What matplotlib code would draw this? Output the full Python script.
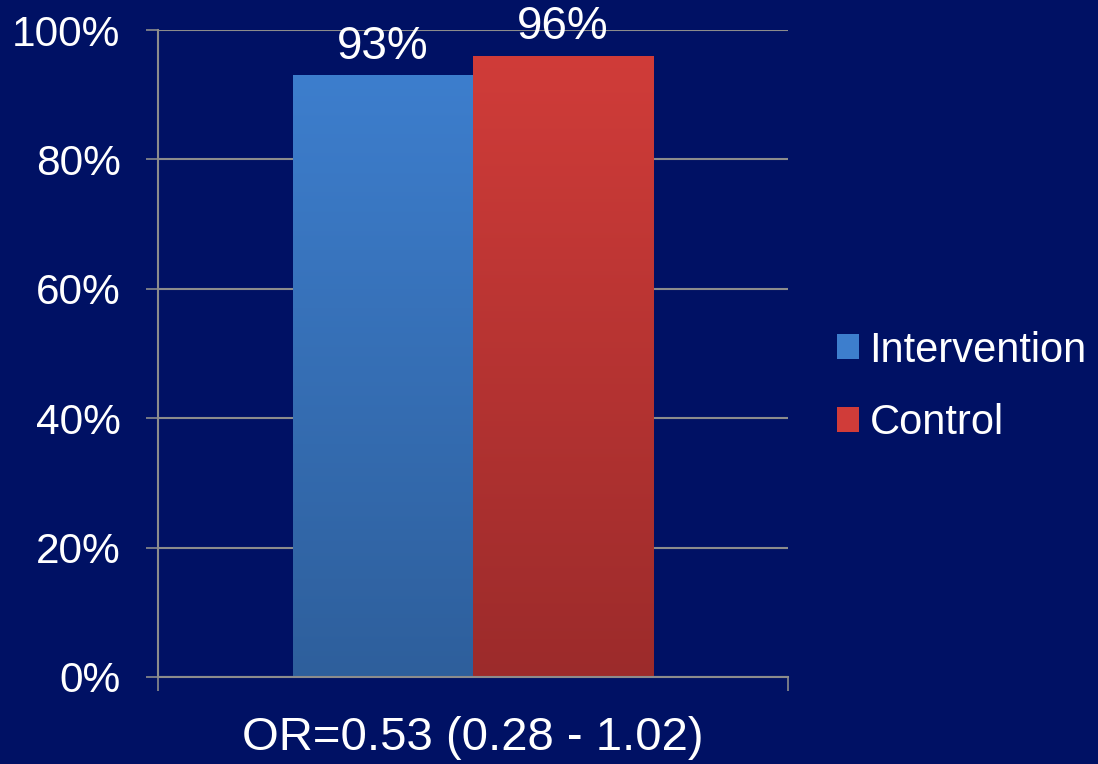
import numpy as np
import matplotlib
matplotlib.use('Agg')
import matplotlib.pyplot as plt
from matplotlib.colors import LinearSegmentedColormap
from matplotlib.patches import Patch

# Data
groups = ['Intervention', 'Control']
values = [93, 96]
value_labels = ['93%', '96%']
odds_ratio_text = 'OR=0.53 (0.28 - 1.02)'
yticks = [0, 20, 40, 60, 80, 100]
ytick_labels = ['0%', '20%', '40%', '60%', '80%', '100%']

# colours: (top, bottom) of each bar gradient
bar_colors = [('#3d7ecd', '#2e5f9c'), ('#d03c39', '#9c2b2b')]
bg = '#001164'
grid_col = '#8c8c8c'

plt.rcParams['font.family'] = ['Liberation Sans', 'DejaVu Sans']

fig = plt.figure(figsize=(10.98, 7.64), dpi=100, facecolor=bg)
ax = fig.add_axes([158/1098, 1 - 677/764, 630/1098, 647/764])
ax.set_facecolor(bg)

bar_w = 0.286
centers = [0.5 - bar_w/2, 0.5 + bar_w/2]

# Bars with a vertical gradient fill
for i, (x, v) in enumerate(zip(centers, values)):
    top, bot = bar_colors[i]
    rect = ax.bar(x, v, width=bar_w, color=top, zorder=2)[0]
    cmap = LinearSegmentedColormap.from_list('g%d' % i, [bot, top])
    grad = np.linspace(0, 1, 256).reshape(-1, 1)
    im = ax.imshow(grad, cmap=cmap, aspect='auto', origin='lower',
                   extent=[x - bar_w/2, x + bar_w/2, 0, v], zorder=3)
    im.set_clip_path(rect)
    ax.annotate(value_labels[i], (x, v), xytext=(0, 12), textcoords='offset points',
                ha='center', va='baseline', color='white', fontsize=33, zorder=5)

ax.set_aspect('auto')
ax.set_xlim(0, 1)
ax.set_ylim(0, 100)

# gridlines & spines
ax.set_yticks(yticks)
ax.set_yticklabels(ytick_labels)
ax.yaxis.grid(True, color=grid_col, linewidth=1.5, zorder=1)
ax.set_axisbelow(True)
ax.set_xticks([0, 1])
ax.set_xticklabels(['', ''])
for s in ['top', 'right']:
    ax.spines[s].set_visible(False)
for s in ['left', 'bottom']:
    ax.spines[s].set_color(grid_col)
    ax.spines[s].set_linewidth(1.5)
    ax.spines[s].set_zorder(4)
ax.tick_params(axis='y', length=9, width=1.2, color=grid_col, pad=18,
               labelsize=30.5, labelcolor='white')
ax.tick_params(axis='x', length=10, width=1.2, color=grid_col)

fig.text(473/1098, 1 - 750/764, odds_ratio_text, ha='center', va='baseline',
         color='white', fontsize=34)

handles = [Patch(facecolor=c[0], edgecolor='none') for c in bar_colors]
leg = ax.legend(handles, groups, loc='center left',
                bbox_to_anchor=(837/1098, 1 - 387/764),
                bbox_transform=fig.transFigure, frameon=False,
                fontsize=30, handlelength=0.52, handleheight=0.55,
                handletextpad=0.26, labelspacing=0.79,
                borderpad=0, borderaxespad=0)
for t in leg.get_texts():
    t.set_color('white')

fig.savefig('out.png', dpi=100, facecolor=bg)
